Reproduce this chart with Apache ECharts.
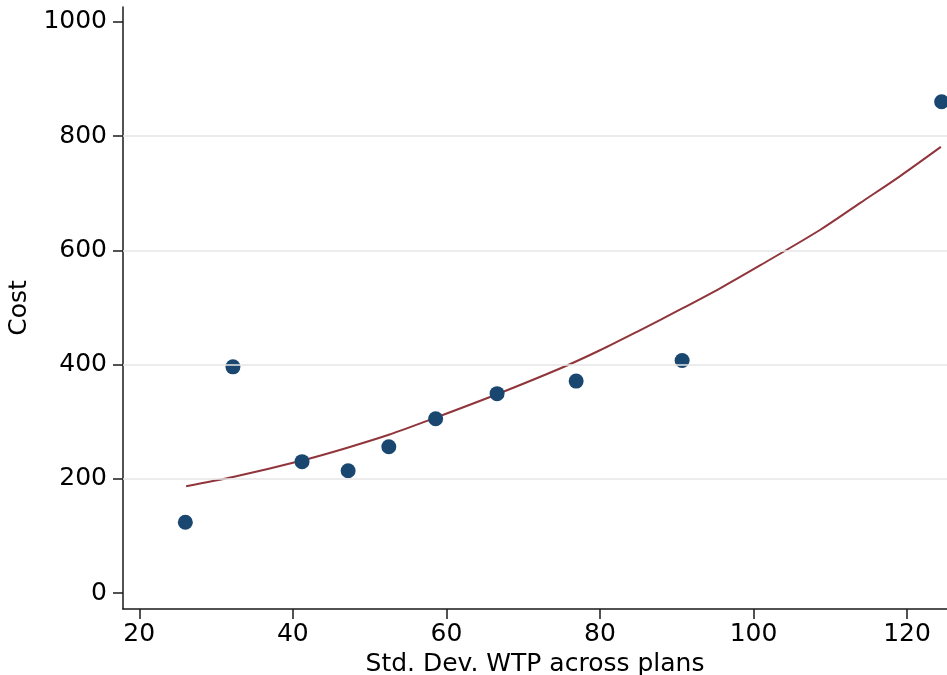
<!DOCTYPE html>
<html>
<head>
<meta charset="utf-8">
<script src="https://cdn.jsdelivr.net/npm/echarts@6/dist/echarts.min.js"></script>
<style>
  html, body { margin: 0; padding: 0; background: #fff; }
  #chart { width: 947px; height: 675px; }
</style>
</head>
<body>
<div id="chart"></div>
<script>
// Observed plans: spread of willingness-to-pay vs. cost
const wtpSd = [26.0, 32.2, 41.2, 47.2, 52.5, 58.6, 66.6, 76.9, 90.7, 124.5];
const cost  = [124, 396, 230, 214, 256, 305, 349, 371, 407, 860];

// Fitted cost curve, read at points along its length
const fitX = [26.1, 32.2, 41.2, 47.0, 52.5, 58.6, 66.6, 74.8, 80.0, 85.2, 90.4, 95.7, 100.9, 108.7, 113.9, 119.1, 124.4];
const fitY = [187, 203, 232, 254, 277, 307, 348, 393, 425, 460, 496, 534, 574, 636, 683, 730, 781];

// Tick labels and reference lines
const xTicks = [20, 40, 60, 80, 100, 120];
const yTicks = [0, 200, 400, 600, 800, 1000];
const yGrid  = [200, 400, 600, 800];

const FONT = 'DejaVu Sans';
const FS = 25;

const chart = echarts.init(document.getElementById('chart'), null, { renderer: 'canvas' });

const axisLineStyle = { color: '#1a1a1a', width: 1.5 };
const plain = v => String(v);

chart.setOption({
  animation: false,
  backgroundColor: '#ffffff',
  grid: { left: 123, right: 0, top: 7, bottom: 66, containLabel: false, outerBoundsMode: 'none' },
  xAxis: {
    type: 'value',
    min: 17.88,
    max: 125.2,
    name: 'Std. Dev. WTP across plans',
    nameLocation: 'middle',
    nameGap: 41,
    nameTextStyle: { fontFamily: FONT, fontSize: FS, color: '#000' },
    axisLine: { show: true, onZero: false, lineStyle: axisLineStyle },
    axisTick: { show: true, length: 10, lineStyle: axisLineStyle, customValues: xTicks },
    axisLabel: {
      customValues: xTicks,
      formatter: plain,
      margin: 13,
      fontFamily: FONT, fontSize: FS, color: '#000'
    },
    splitLine: { show: false }
  },
  yAxis: {
    type: 'value',
    min: -28,
    max: 1026,
    name: 'Cost',
    nameLocation: 'middle',
    nameGap: 73,
    nameRotate: 90,
    nameTextStyle: { fontFamily: FONT, fontSize: FS, color: '#000' },
    axisLine: { show: true, onZero: false, lineStyle: axisLineStyle },
    axisTick: { show: true, length: 10, lineStyle: axisLineStyle, customValues: yTicks },
    axisLabel: {
      customValues: yTicks,
      formatter: plain,
      margin: 16,
      fontFamily: FONT, fontSize: FS, color: '#000'
    },
    splitLine: { show: false }
  },
  series: [
    {
      type: 'line',
      data: fitX.map((x, i) => [x, fitY[i]]),
      smooth: 0.3,
      showSymbol: false,
      symbol: 'none',
      lineStyle: { color: '#90353b', width: 2 },
      z: 2,
      markLine: {
        silent: true,
        symbol: ['none', 'none'],
        label: { show: false },
        lineStyle: { color: '#e6e6e6', width: 1.5, type: 'solid' },
        data: yGrid.map(v => ({ yAxis: v }))
      }
    },
    {
      type: 'scatter',
      data: wtpSd.map((x, i) => [x, cost[i]]),
      symbol: 'circle',
      symbolSize: 15,
      itemStyle: { color: '#1a476f', opacity: 1 },
      z: 3
    }
  ]
});
</script>
</body>
</html>
